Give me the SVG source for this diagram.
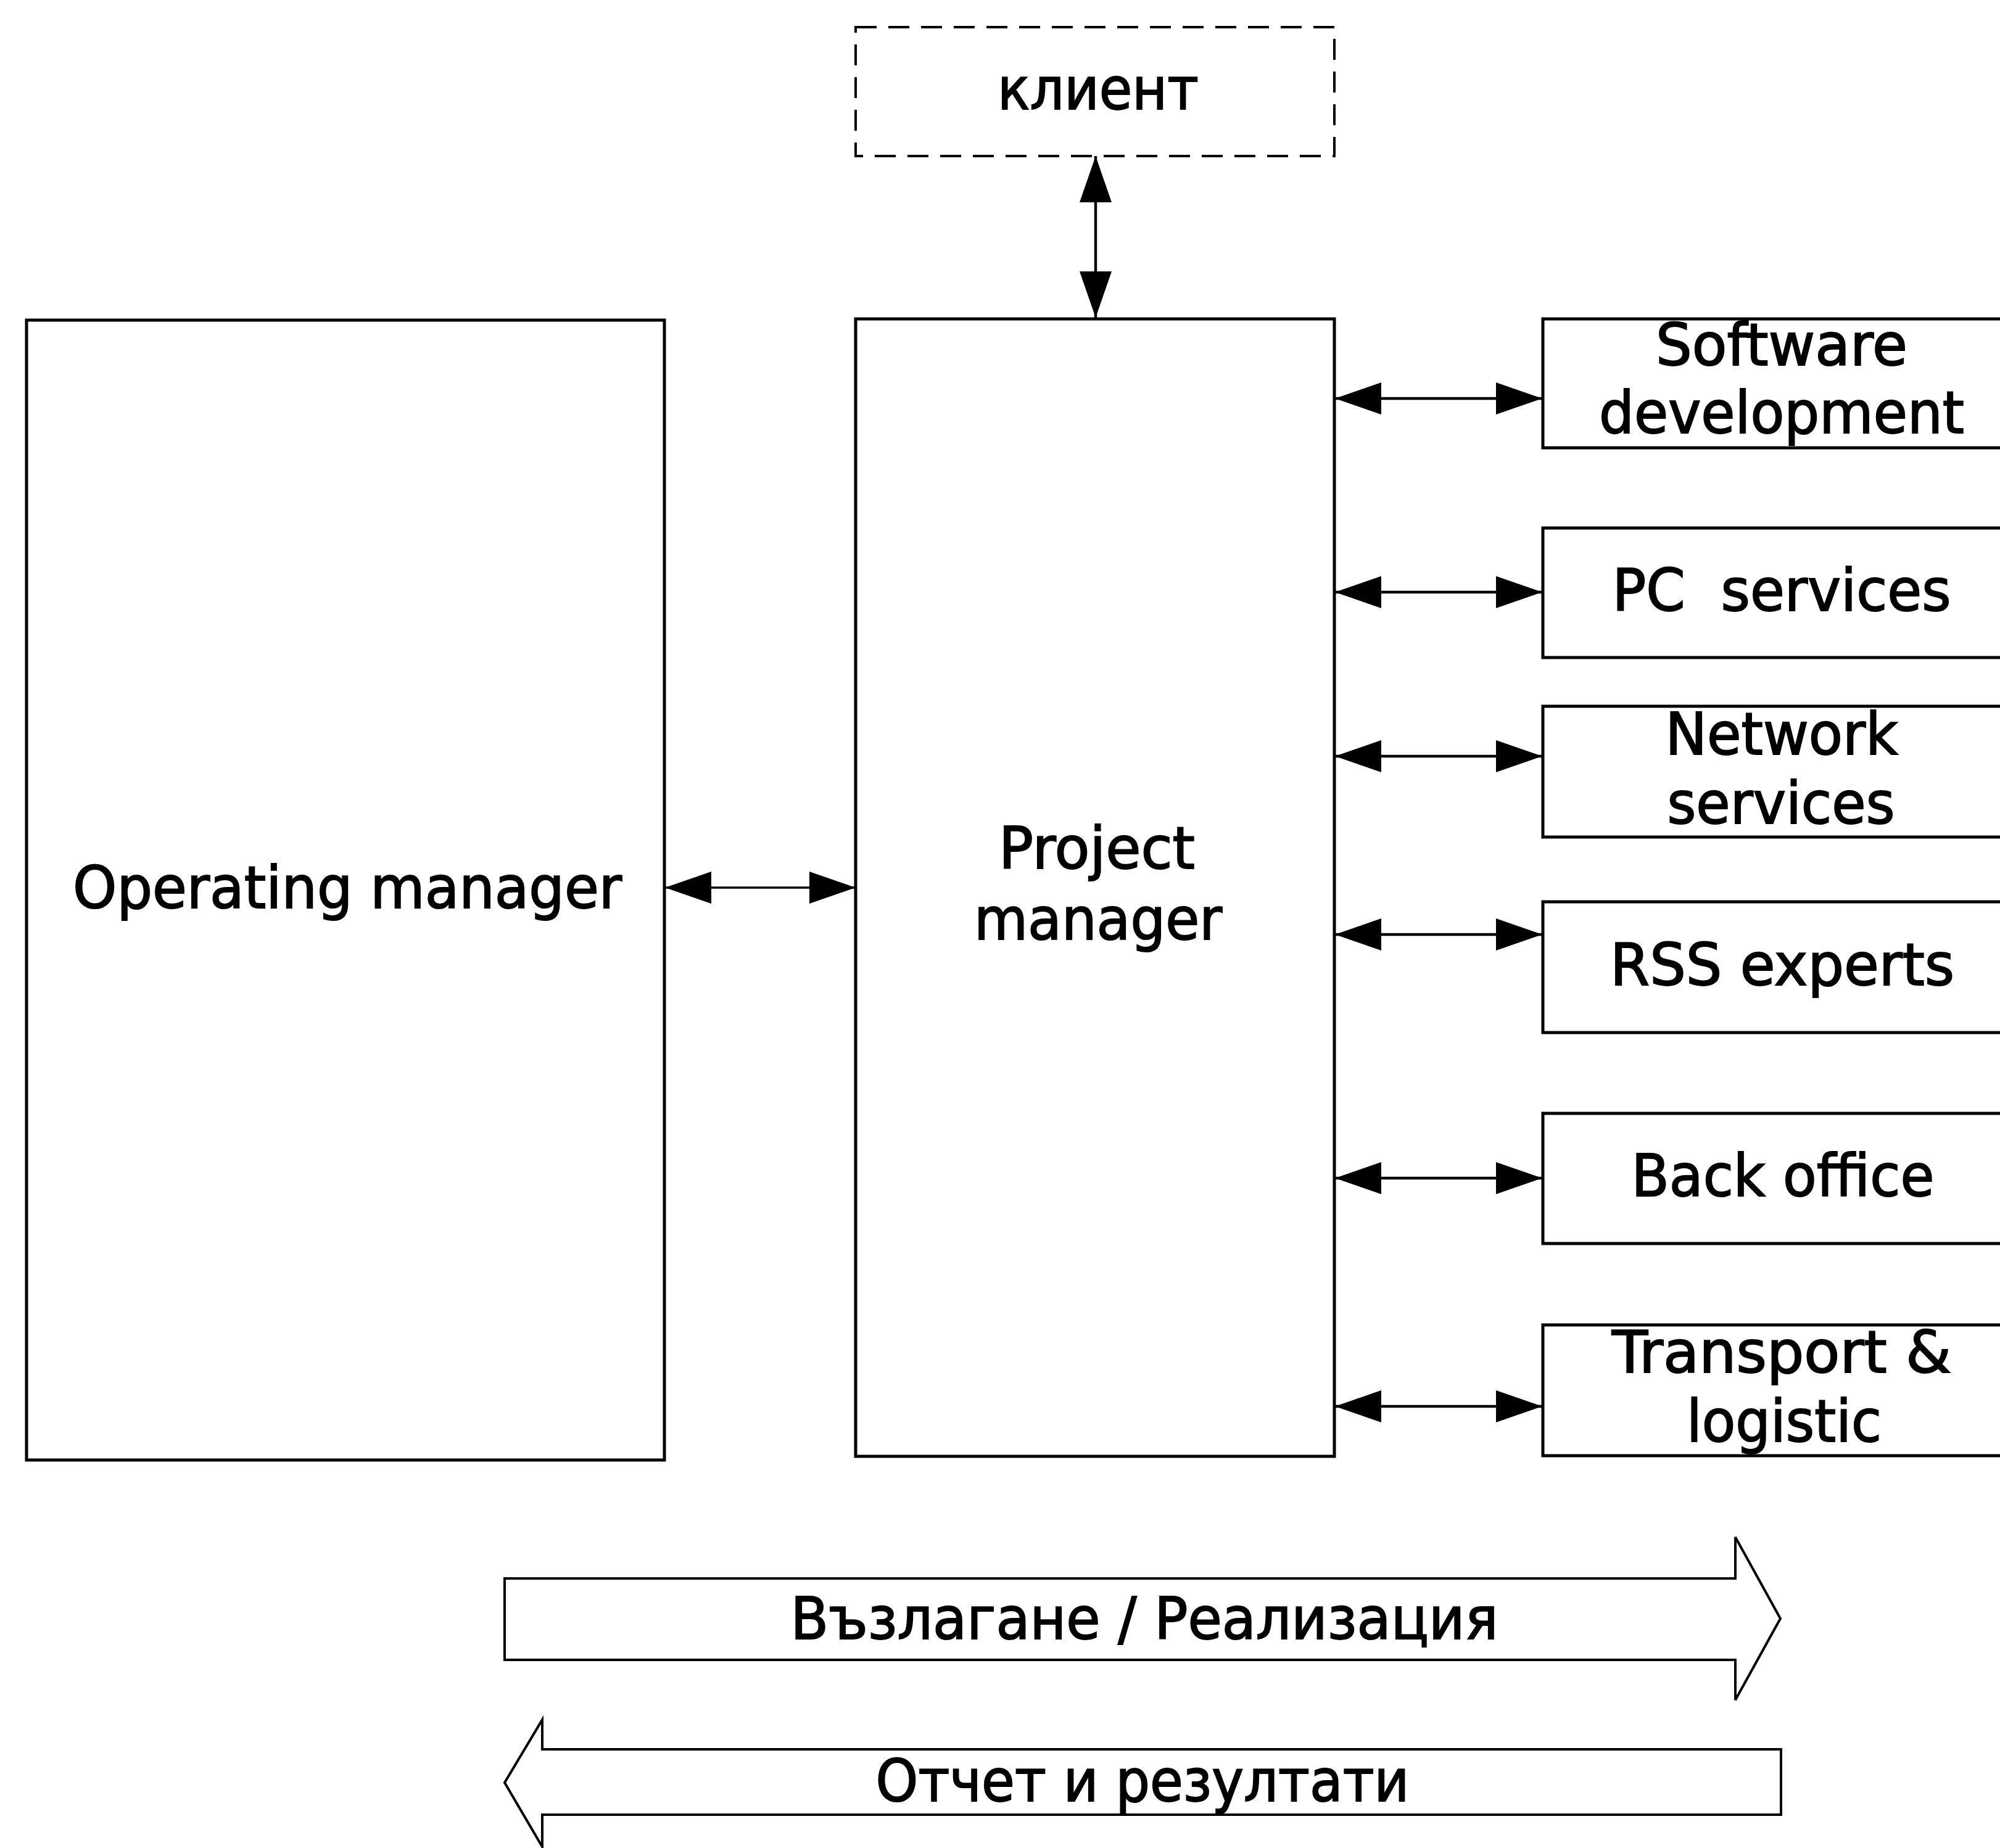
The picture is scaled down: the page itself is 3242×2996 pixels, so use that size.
<svg xmlns="http://www.w3.org/2000/svg" width="3242" height="2996" viewBox="0 0 3242 2996">
  <style>
    .box { fill: #ffffff; stroke: #000000; stroke-width: 5; }
    .dash { fill: #ffffff; stroke: #000000; stroke-width: 4; stroke-dasharray: 34 19; }
    .lbl { font-family: "DejaVu Sans", Verdana, "Liberation Sans", sans-serif; font-size: 95px; fill: #000000; stroke: #000000; stroke-width: 2; text-anchor: middle; }
    .conn { stroke: #000000; stroke-width: 4.5; fill: none; marker-start: url(#ah); marker-end: url(#ah); }
    .thin { stroke-width: 3.5; }
    .big { fill: #ffffff; stroke: #000000; stroke-width: 4; stroke-linejoin: miter; }
  </style>
  <defs>
    <marker id="ah" markerUnits="userSpaceOnUse" markerWidth="75" markerHeight="52" refX="75" refY="26" orient="auto-start-reverse">
      <path d="M0,0 L75,26 L0,52 Z" fill="#000000"/>
    </marker>
  </defs>
  <rect width="3242" height="2996" fill="#ffffff"/>

  <g id="connectors">
    <line class="conn" x1="1776" y1="253" x2="1776" y2="515"/>
    <line class="conn thin" x1="1078" y1="1439" x2="1387" y2="1439"/>
    <line class="conn" x1="2164" y1="646" x2="2500" y2="646"/>
    <line class="conn" x1="2164" y1="960" x2="2500" y2="960"/>
    <line class="conn" x1="2164" y1="1226" x2="2500" y2="1226"/>
    <line class="conn" x1="2164" y1="1515" x2="2500" y2="1515"/>
    <line class="conn" x1="2164" y1="1910" x2="2500" y2="1910"/>
    <line class="conn" x1="2164" y1="2280" x2="2500" y2="2280"/>
  </g>

  <g id="client">
    <rect class="dash" x="1387" y="44" width="776" height="209"/>
    <text class="lbl" x="1780" y="177" textLength="326" lengthAdjust="spacingAndGlyphs">клиент</text>
  </g>

  <g id="operating-manager">
    <rect class="box" x="43" y="519" width="1034" height="1848"/>
    <text class="lbl" x="563" y="1472" textLength="890" lengthAdjust="spacingAndGlyphs">Operating manager</text>
  </g>

  <g id="project-manager">
    <rect class="box" x="1387" y="517" width="776" height="1844"/>
    <text class="lbl" x="1778" y="1408" textLength="318" lengthAdjust="spacingAndGlyphs">Project</text>
    <text class="lbl" x="1780" y="1523" textLength="402" lengthAdjust="spacingAndGlyphs">manager</text>
  </g>

  <g id="software-development">
    <rect class="box" x="2501" y="517" width="780" height="209"/>
    <text class="lbl" x="2888" y="592" textLength="408" lengthAdjust="spacingAndGlyphs">Software</text>
    <text class="lbl" x="2888" y="702" textLength="592" lengthAdjust="spacingAndGlyphs">development</text>
  </g>

  <g id="pc-services">
    <rect class="box" x="2501" y="856" width="780" height="210"/>
    <text class="lbl" x="2888" y="990" textLength="549" lengthAdjust="spacingAndGlyphs" xml:space="preserve">PC  services</text>
  </g>

  <g id="network-services">
    <rect class="box" x="2501" y="1145" width="780" height="212"/>
    <text class="lbl" x="2888" y="1223" textLength="377" lengthAdjust="spacingAndGlyphs">Network</text>
    <text class="lbl" x="2887" y="1335" textLength="369" lengthAdjust="spacingAndGlyphs">services</text>
  </g>

  <g id="rss-experts">
    <rect class="box" x="2501" y="1462" width="780" height="212"/>
    <text class="lbl" x="2889" y="1597" textLength="558" lengthAdjust="spacingAndGlyphs">RSS experts</text>
  </g>

  <g id="back-office">
    <rect class="box" x="2501" y="1805" width="780" height="211"/>
    <text class="lbl" x="2890" y="1939" textLength="491" lengthAdjust="spacingAndGlyphs">Back office</text>
  </g>

  <g id="transport-logistic">
    <rect class="box" x="2501" y="2148" width="780" height="212"/>
    <text class="lbl" x="2888" y="2225" textLength="550" lengthAdjust="spacingAndGlyphs">Transport &amp;</text>
    <text class="lbl" x="2892" y="2337" textLength="316" lengthAdjust="spacingAndGlyphs">logistic</text>
  </g>

  <g id="assignment-arrow">
    <polygon class="big" points="818,2559 2813,2559 2813,2492 2886,2624 2813,2756 2813,2691 818,2691"/>
    <text class="lbl" x="1855" y="2657" textLength="1147" lengthAdjust="spacingAndGlyphs">Възлагане / Реализация</text>
  </g>

  <g id="report-arrow">
    <polygon class="big" points="818,2890 879,2788 879,2836 2887,2836 2887,2942 879,2942 879,2994"/>
    <text class="lbl" x="1852" y="2920" textLength="865" lengthAdjust="spacingAndGlyphs">Отчет и резултати</text>
  </g>
</svg>
